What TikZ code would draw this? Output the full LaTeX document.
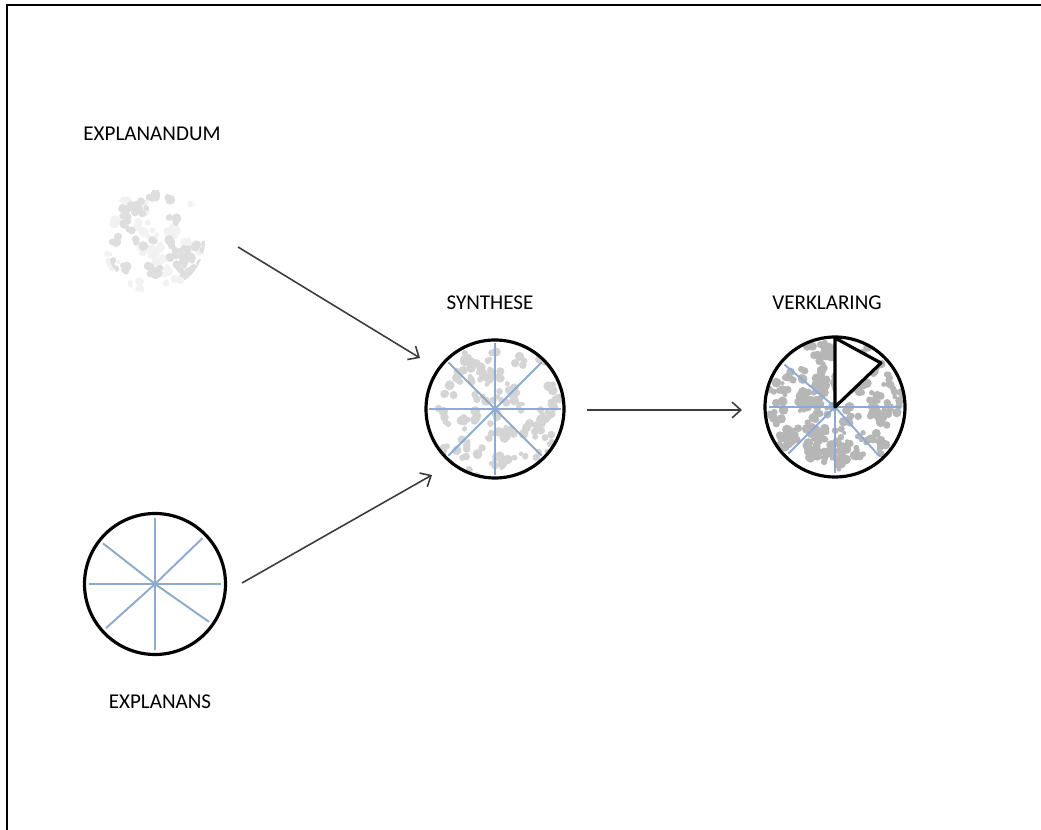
\documentclass[tikz,border=0pt]{standalone}
\usepackage{fontspec}
\setmainfont{Carlito}
\usetikzlibrary{calc,arrows.meta}
\definecolor{spokeblue}{RGB}{140,170,210}
\definecolor{arrowgray}{RGB}{60,60,60}
\definecolor{specklefaint}{RGB}{222,222,222}
\definecolor{specklelight}{RGB}{212,212,212}
\definecolor{speckledark}{RGB}{182,182,182}
\newcommand{\speckle}[4]{
	\begin{scope}
		\clip (#1) circle (#2);
		\foreach \i in {1,...,#3} {
			\pgfmathsetmacro{\ang}{360*rnd}
			\pgfmathsetmacro{\dst}{#2*sqrt(rnd)}
			\coordinate (sp) at ($(#1)+(\ang:\dst)$);
			\foreach \k in {1,...,4} {
				\pgfmathsetmacro{\ox}{12*rnd-6}
				\pgfmathsetmacro{\oy}{12*rnd-6}
				\pgfmathsetmacro{\rad}{2+3*rnd}
				\fill[#4] ($(sp)+(\ox,\oy)$) circle (\rad);
			}
		}
	\end{scope}
}
\newcommand{\spokes}[3]{
	\foreach \a in {#3} {
		\draw[spokeblue, line width=1.1pt] (#1) -- ++(\a:#2);
	}
}
\tikzset{
	label/.style={font=\fontsize{12}{14}\selectfont, text=black},
	rim/.style={line width=1.8pt, black},
	arr/.style={arrowgray, line width=0.9pt, -{Straight Barb[length=5pt,width=9pt]}}
}

\begin{document}
\begin{tikzpicture}[x=0.02cm, y=-0.02cm]
	\useasboundingbox (0,0) rectangle (1041,830);
	\pgfmathsetseed{4127}
	\draw[line width=1.3pt] (7,830) -- (7,5) -- (1041,5);

	\coordinate (dum) at (155,240);
	\coordinate (ans) at (155,584);
	\coordinate (syn) at (495,409);
	\coordinate (ver) at (835,407);

	% explanandum
	\node[label] (dumlbl) at (152,134) {EXPLANANDUM};
	\speckle{dum}{54}{22}{black!5}
	\speckle{dum}{50}{24}{specklefaint}

	% explanans
	\spokes{ans}{66}{0,90,180,270,218,316,138,35}
	\draw[rim] (ans) circle (70.5);
	\node[label] (anslbl) at (160,702) {EXPLANANS};

	% synthese
	\node[label] (synlbl) at (490,303) {SYNTHESE};
	\speckle{syn}{69}{48}{specklelight}
	\spokes{syn}{66}{0,45,...,315}
	\draw[rim] (syn) circle (69);

	% verklaring
	\node[label] (verlbl) at (827,303) {VERKLARING};
	\speckle{ver}{69}{95}{speckledark}
	\spokes{ver}{66}{0,180,90,220,135,48}
	\fill[white] (ver) -- (835,338) -- (881,363) -- cycle;
	\draw[rim, line join=round] (ver) -- (835,338) -- (881,363) -- cycle;
	\draw[rim] (ver) circle (70);

	% arrows
	\coordinate (a1s) at (238,247);
	\coordinate (a1e) at (420,358);
	\coordinate (a2s) at (242,583);
	\coordinate (a2e) at (432,475);
	\coordinate (a3s) at (587,410);
	\coordinate (a3e) at (742,410);
	\draw[arr] (a1s) -- (a1e);
	\draw[arr] (a2s) -- (a2e);
	\draw[arr] (a3s) -- (a3e);
\end{tikzpicture}
\end{document}
